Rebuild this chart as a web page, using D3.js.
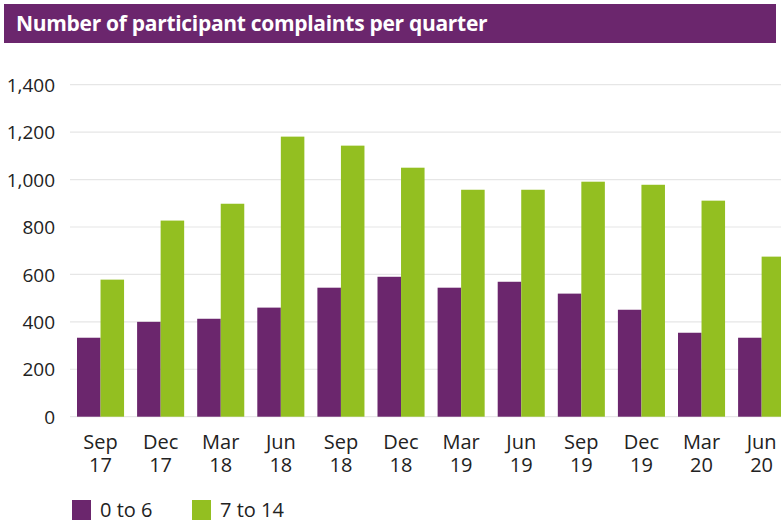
<!DOCTYPE html>
<html>
<head>
<meta charset="utf-8">
<script src="https://cdn.jsdelivr.net/npm/d3@7"></script>
<style>
  html, body { margin: 0; padding: 0; background: #fff; }
  svg { display: block; }
</style>
</head>
<body>
<svg id="chart" width="781" height="522"></svg>
<script>
// Quarterly participant complaints, split by age group
const quarterMonths = ["Sep", "Dec", "Mar", "Jun", "Sep", "Dec",
                       "Mar", "Jun", "Sep", "Dec", "Mar", "Jun"];
const quarterYears  = ["17", "17", "18", "18", "18", "18",
                       "19", "19", "19", "19", "20", "20"];
const age0to6  = [333, 400, 413, 460, 544, 590, 544, 569, 519, 451, 354, 333];
const age7to14 = [578, 827, 898, 1181, 1143, 1050, 957, 957, 991, 978, 911, 675];
const seriesNames = ["0 to 6", "7 to 14"];
const yTicks = [0, 200, 400, 600, 800, 1000, 1200, 1400];

const purple = "#6b266d";
const green = "#93bf21";
const font = "'Open Sans', 'Noto Sans', sans-serif";

const svg = d3.select("#chart");

// Title banner
svg.append("rect").attr("x", 4).attr("y", 4).attr("width", 772).attr("height", 39)
  .attr("fill", purple);
svg.append("text").attr("x", 16).attr("y", 31)
  .attr("fill", "#fff").attr("font-family", font).attr("font-weight", 700)
  .attr("font-size", 21).attr("letter-spacing", -0.3)
  .text("Number of participant complaints per quarter");

const plotLeft = 70, plotRight = 781;
const y = d3.scaleLinear().domain([0, 1400]).range([416.7, 84.7]);

const keys = quarterMonths.map((m, i) => i);
const step = 60.1, padIn = 0.217, padOut = 0.1165;
const x = d3.scaleBand().domain(keys)
  .range([plotLeft, plotLeft + step * (keys.length - padIn + 2 * padOut)])
  .paddingInner(padIn).paddingOuter(padOut);
const xs = d3.scaleBand().domain(seriesNames).range([0, x.bandwidth()]);

// Gridlines
svg.append("g").selectAll("line").data(yTicks).join("line")
  .attr("x1", plotLeft).attr("x2", plotRight)
  .attr("y1", d => y(d)).attr("y2", d => y(d))
  .attr("stroke", "#e6e6e6").attr("stroke-width", 1.2);

// Y axis labels
const yAxis = d3.axisLeft(y).tickValues(yTicks).tickSize(0).tickPadding(0)
  .tickFormat(d3.format(","));
svg.append("g").attr("transform", "translate(55,0)").call(yAxis)
  .call(g => g.select(".domain").remove())
  .selectAll("text")
  .attr("font-family", font).attr("font-size", 19).attr("fill", "#222")
  .attr("dy", "0.35em");

// Bars
const rows = keys.map(i => ({ i, vals: [age0to6[i], age7to14[i]] }));
const groups = svg.append("g").selectAll("g").data(rows).join("g")
  .attr("transform", d => `translate(${x(d.i)},0)`);
groups.selectAll("rect")
  .data(d => d.vals.map((v, j) => ({ name: seriesNames[j], v })))
  .join("rect")
  .attr("x", d => xs(d.name))
  .attr("width", xs.bandwidth())
  .attr("y", d => y(d.v))
  .attr("height", d => y(0) - y(d.v))
  .attr("fill", d => d.name === seriesNames[0] ? purple : green);

// X axis labels: month on the first line, year below
const cx = i => x(i) + x.bandwidth() / 2;
const xl = svg.append("g").attr("font-family", font).attr("font-size", 20)
  .attr("fill", "#222").attr("text-anchor", "middle");
xl.selectAll("text.month").data(keys).join("text").attr("class", "month")
  .attr("x", cx).attr("y", 449).text(i => quarterMonths[i]);
xl.selectAll("text.year").data(keys).join("text").attr("class", "year")
  .attr("x", cx).attr("y", 472).text(i => quarterYears[i]);

// Legend
const legend = svg.append("g").selectAll("g").data(seriesNames).join("g")
  .attr("transform", (d, i) => `translate(${i === 0 ? 72 : 192},500)`);
legend.append("rect").attr("width", 19).attr("height", 20)
  .attr("fill", (d, i) => i === 0 ? purple : green);
legend.append("text").attr("x", 28).attr("y", 17)
  .attr("font-family", font).attr("font-size", 20).attr("fill", "#222")
  .text(d => d);
</script>
</body>
</html>
